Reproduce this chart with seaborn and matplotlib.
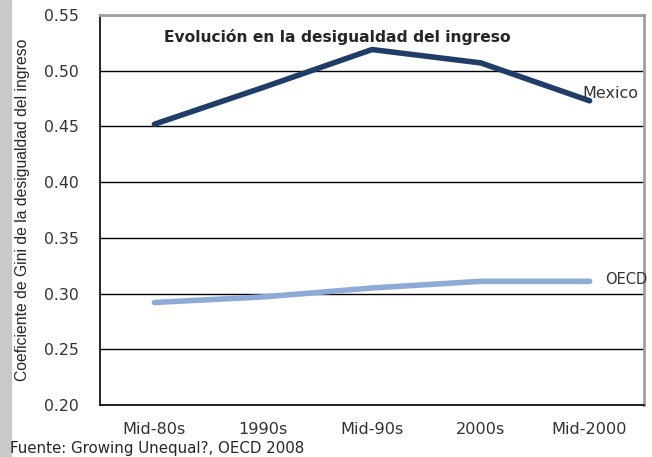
import numpy as np
import pandas as pd
import matplotlib.pyplot as plt
import seaborn as sns
from matplotlib.patches import Rectangle

periodos = ['Mid-80s', '1990s', 'Mid-90s', '2000s', 'Mid-2000']
mexico = [0.452, 0.485, 0.519, 0.507, 0.473]
oecd = [0.292, 0.297, 0.305, 0.311, 0.311]
y_ticks = [0.20, 0.25, 0.30, 0.35, 0.40, 0.45, 0.50, 0.55]

sns.set_style('white')
plt.rcParams['font.family'] = ['DejaVu Sans']
arial = ['Liberation Sans', 'DejaVu Sans']

pos = np.arange(len(periodos)) + 0.5
df = pd.DataFrame({
    'x': np.concatenate([pos, pos]),
    'gini': mexico + oecd,
    'serie': ['Mexico'] * len(mexico) + ['OECD'] * len(oecd),
})

fig = plt.figure(figsize=(6.52, 4.57), dpi=100)
fig.patches.append(Rectangle((0, 0), 11 / 652, 1, transform=fig.transFigure,
                             color='#c9c9c9', zorder=0))
ax = fig.add_axes([100 / 652, 1 - 405 / 457, 544 / 652, 390 / 457])

sns.lineplot(data=df, x='x', y='gini', hue='serie',
             palette={'Mexico': '#1f3d66', 'OECD': '#8eabd8'},
             lw=4, legend=False, ax=ax, solid_capstyle='round')

ax.set_xlim(0, len(periodos))
ax.set_ylim(0.20, 0.55)
ax.set_yticks(y_ticks)
ax.set_yticklabels([f'{v:.2f}' for v in y_ticks], fontsize=11.3, color='#333333')
ax.yaxis.grid(True, color='black', lw=1)
ax.set_axisbelow(True)

# ticks mayores en los límites, etiquetas en los centros
ax.set_xticks(np.arange(len(periodos) + 1))
ax.set_xticklabels([])
ax.set_xticks(pos, minor=True)
ax.set_xticklabels(periodos, minor=True, fontsize=11.6, color='#333333')
ax.tick_params(axis='x', which='minor', length=0, pad=12)
ax.tick_params(axis='x', which='major', length=6, width=1, color='black', direction='out')
ax.tick_params(axis='y', length=7, width=1, color='black', direction='out', pad=8)

for s in ['left', 'bottom']:
    ax.spines[s].set_color('black')
    ax.spines[s].set_linewidth(1.2)
for s in ['top', 'right']:
    ax.spines[s].set_color('#a0a0a0')
    ax.spines[s].set_linewidth(2)

ax.set_xlabel('')
ax.set_ylabel('Coeficiente de Gini de la desigualdad del ingreso', fontsize=11.3,
              family=arial, labelpad=10)

ax.text(0.117, 0.965, 'Evolución en la desigualdad del ingreso', transform=ax.transAxes,
        fontsize=11.2, fontweight='bold', va='top', ha='left')
ax.text(pos[-1] - 0.07, mexico[-1] + 0.007, 'Mexico', fontsize=11.5, color='#333333',
        ha='left', va='center')
ax.text(pos[-1] + 0.14, oecd[-1] + 0.002, 'OECD', fontsize=10.5, color='#333333',
        ha='left', va='center')

fig.text(10 / 652, 1 - 453 / 457, 'Fuente: Growing Unequal?, OECD 2008',
         fontsize=10.8, ha='left', va='baseline')

plt.savefig('out.png', dpi=100)
